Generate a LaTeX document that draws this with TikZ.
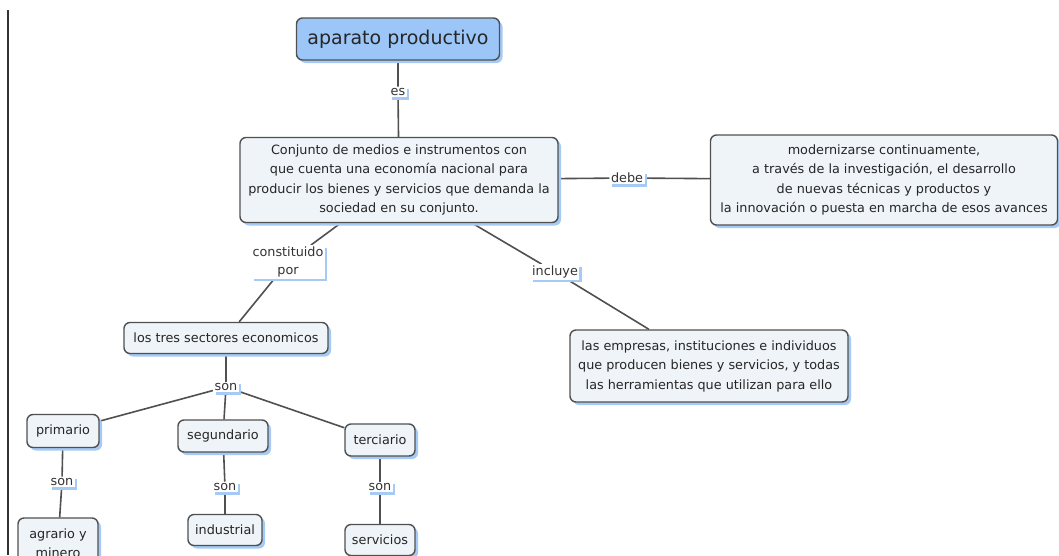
\documentclass[tikz,border=0pt]{standalone}
\usepackage{fontspec}
\setmainfont{DejaVu Sans}
\usetikzlibrary{shadows}
\usetikzlibrary{backgrounds}

\definecolor{conceptfill}{RGB}{238,244,248}
\definecolor{rootfill}{RGB}{156,198,248}
\definecolor{shadowblue}{RGB}{165,202,245}
\definecolor{edgegray}{RGB}{80,80,80}

\begin{document}
\begin{tikzpicture}[
    x=1pt, y=-1pt,
    font=\fontsize{12.8}{19.5}\selectfont,
    % styles
    concept/.style={draw=edgegray, line width=1.4pt, fill=conceptfill,
      rounded corners=6pt, align=center, inner xsep=6pt, inner ysep=4pt,
      text=black!85,
      drop shadow={shadow xshift=3pt, shadow yshift=-3pt,
        fill=shadowblue, opacity=1}},
    root/.style={concept, fill=rootfill, font=\fontsize{19}{22}\selectfont},
    phrase/.style={fill=white, inner sep=1.5pt, align=center, text=black!80,
      drop shadow={shadow xshift=2.5pt, shadow yshift=-2.5pt,
        fill=shadowblue, opacity=1}},
    link/.style={draw=edgegray, line width=1.6pt}]

    % page
    \useasboundingbox (0, 0) rectangle (1059, 555);
    \draw [line width=1.6pt, black!80] (8, 10) -- (8, 555);

    % concepts
    \node [root, minimum width=203, minimum height=42] (aparato) at (398, 39)
      {aparato productivo};
    \node [concept, minimum width=318, minimum height=85] (conjunto) at (399, 180)
      {Conjunto de medios e instrumentos con\\
       que cuenta una economía nacional para\\
       producir los bienes y servicios que demanda la\\
       sociedad en su conjunto.};
    \node [concept, minimum width=347, minimum height=90] (moderno) at (884, 180)
      {modernizarse continuamente,\\
       a través de la investigación, el desarrollo\\
       de nuevas técnicas y productos y\\
       la innovación o puesta en marcha de esos avances};
    \node [concept, minimum width=278, minimum height=72] (empresas) at (709, 366)
      {las empresas, instituciones e individuos\\
       que producen bienes y servicios, y todas\\
       las herramientas que utilizan para ello};
    \node [concept, minimum width=204, minimum height=31] (sectores) at (226, 338)
      {los tres sectores economicos};
    \node [concept, minimum width=72, minimum height=33] (primario) at (63, 431)
      {primario};
    \node [concept, minimum width=90, minimum height=32] (segundario) at (223, 436)
      {segundario};
    \node [concept, minimum width=70, minimum height=32] (terciario) at (380, 440)
      {terciario};
    \node [concept, minimum width=80, minimum height=50] (agrario) at (58, 543)
      {agrario y\\minero};
    \node [concept, minimum width=74, minimum height=31] (industrial) at (225, 530)
      {industrial};
    \node [concept, minimum width=70, minimum height=31] (servicios) at (380, 540)
      {servicios};

    % linking phrases
    \node [phrase] (es) at (398, 92) {es};
    \node [phrase] (debe) at (627, 178) {debe};
    \node [phrase, font=\fontsize{12.8}{18}\selectfont] (constituido) at (288, 262)
      {constituido\\por};
    \node [phrase] (incluye) at (555, 272) {incluye};
    \node [phrase] (son) at (226, 387) {son};
    \node [phrase] (sonA) at (62, 482) {son};
    \node [phrase] (sonB) at (225, 487) {son};
    \node [phrase] (sonC) at (380, 487) {son};

    % connectors
    \begin{scope}[on background layer]
      \fill [white] (0, 0) rectangle (1059, 555);
      \draw [link] (aparato) -- (es) -- (conjunto);
      \draw [link] (conjunto) -- (debe) -- (moderno);
      \draw [link] (conjunto) -- (constituido) -- (sectores);
      \draw [link] (conjunto) -- (incluye) -- (empresas);
      \draw [link] (sectores) -- (son);
      \foreach \sector/\sonlabel/\example in {
        primario/sonA/agrario,
        segundario/sonB/industrial,
        terciario/sonC/servicios} {
        \draw [link] (son) -- (\sector);
        \draw [link] (\sector) -- (\sonlabel) -- (\example);
      }
    \end{scope}

\end{tikzpicture}
\end{document}
